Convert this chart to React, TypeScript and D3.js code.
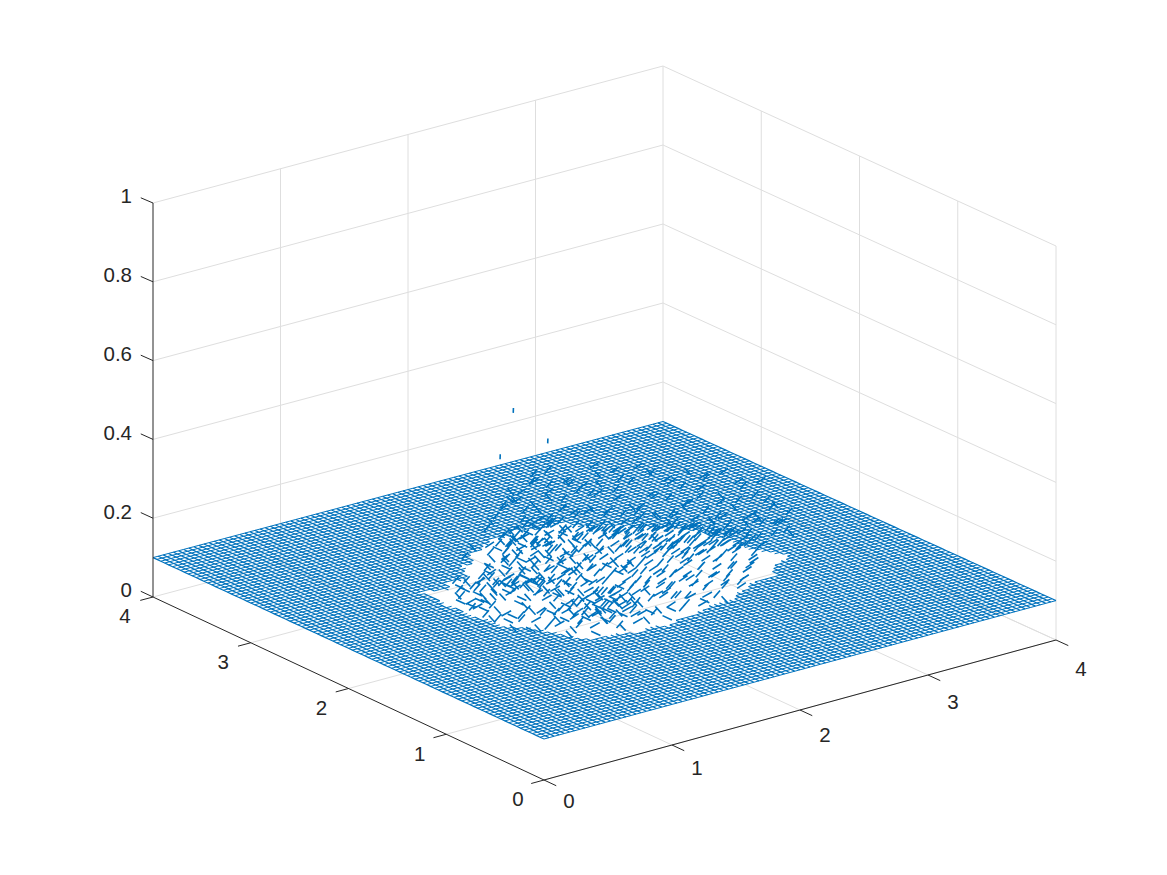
import React, { useMemo } from "react";
import * as d3 from "d3";

// Axis ticks
const xTicks = [0, 1, 2, 3, 4];
const yTicks = [0, 1, 2, 3, 4];
const zTicks = [0, 0.2, 0.4, 0.6, 0.8, 1];
const zTickLabels = ["0", "0.2", "0.4", "0.6", "0.8", "1"];

// Flat sheet of the surface
const sheetLevel = 0.1;
const meshCells = 100;

// Outline of the opening in the sheet: [x, y]
const holeOutline = [
  [0.95, 2.53], [1.12, 2.44], [1.2, 2.56], [1.33, 2.52], [1.45, 2.73], [1.53, 2.7], [1.61, 2.87], [1.72, 2.86], [1.87, 3.01], [1.98, 2.96],
  [2.08, 3.03], [2.22, 2.95], [2.4, 2.98], [2.46, 2.84], [2.55, 2.78], [2.62, 2.74], [2.73, 2.6], [2.83, 2.54], [2.99, 2.33], [3.0, 2.2],
  [3.06, 2.06], [3.05, 1.9], [3.18, 1.63], [3.0, 1.56], [2.88, 1.41], [2.72, 1.41], [2.57, 1.32], [2.5, 1.3], [2.41, 1.22], [2.26, 1.24],
  [2.11, 1.18], [1.96, 1.18], [1.83, 1.11], [1.72, 1.16], [1.6, 1.13], [1.5, 1.19], [1.42, 1.2], [1.33, 1.21], [1.24, 1.27], [1.2, 1.42],
  [1.11, 1.6], [1.08, 1.66], [0.99, 1.75], [0.99, 1.88], [0.95, 2.0], [0.97, 2.12], [0.93, 2.24], [0.98, 2.36],
];

// Stroke shapes: [dx, dy, dz]
const strokeShapes = [
  [0.05, 0, 0.014],
  [0, -0.065, -0.01],
  [0.075, 0, 0.007],
  [0, -0.095, 0],
  [0.006, 0.006, 0.011],
  [0.045, -0.03, 0.014],
];

// Short strokes inside the opening, estimated by eye region by region.
// Row y (hundredths), then triples: x (hundredths), z (hundredths), shape
const strokeRowY = [122, 127, 132, 137, 142, 147, 152, 157, 162, 167, 172, 177, 182, 187, 192, 197, 202, 207, 212, 217, 222, 227, 232, 237, 242, 247, 252, 257, 262, 267, 272, 277, 282, 287, 292, 297];
const strokeRows = [
  [150,11,0, 163,11,2, 171,12,1, 186,11,3, 199,11,0, 214,11,2, 226,12,0],
  [134,11,3, 148,12,0, 156,11,1, 165,12,2, 181,11,0, 193,12,3, 206,11,0, 221,12,2, 236,11,1],
  [126,12,0, 137,11,2, 146,13,1, 152,12,0, 159,13,3, 168,12,0, 174,11,2, 188,12,1, 197,11,5, 211,12,0, 223,11,3, 240,12,0, 252,11,5],
  [122,11,1, 131,12,0, 140,13,5, 149,12,3, 155,14,0, 161,13,1, 166,12,2, 175,13,0, 184,11,3, 195,13,5, 204,12,0, 216,11,2, 229,12,0, 243,12,5, 256,11,0],
  [117,12,2, 129,11,1, 138,13,0, 146,12,2, 152,14,1, 158,13,3, 164,14,0, 170,12,5, 181,13,1, 190,12,0, 201,13,5, 211,11,0, 222,13,2, 234,12,5, 249,12,0, 262,11,5],
  [113,11,0, 125,13,3, 134,12,0, 143,13,1, 150,14,2, 157,13,0, 163,15,3, 169,13,1, 177,12,0, 188,14,5, 198,12,2, 208,13,0, 218,14,5, 228,12,0, 241,13,5, 255,12,0, 268,12,5],
  [109,12,1, 120,11,0, 130,13,2, 140,12,5, 148,14,1, 155,13,3, 161,15,0, 168,14,2, 175,13,5, 184,12,1, 194,14,0, 204,13,5, 214,12,0, 225,14,5, 235,13,0, 247,12,5, 260,13,0, 274,12,5],
  [106,11,3, 117,13,0, 128,12,1, 137,14,5, 146,13,0, 153,14,3, 160,13,2, 170,14,0, 179,13,1, 189,12,5, 199,14,0, 209,13,5, 219,14,0, 231,12,5, 241,14,0, 252,13,5, 266,12,0, 281,12,5],
  [104,12,0, 114,11,2, 126,13,3, 135,12,0, 145,14,1, 152,13,5, 162,14,0, 171,12,3, 181,14,5, 191,13,0, 202,12,1, 212,14,5, 222,13,0, 233,15,5, 244,13,0, 256,14,5, 270,13,0, 284,12,5],
  [101,11,1, 112,13,0, 122,12,5, 132,14,1, 141,13,3, 150,12,0, 159,14,2, 169,13,1, 179,12,0, 189,14,5, 199,13,0, 210,15,5, 220,14,0, 230,13,5, 240,15,0, 251,14,5, 262,13,0, 275,14,5, 290,12,0],
  [100,12,3, 111,11,0, 120,13,1, 130,14,2, 139,13,0, 148,15,3, 158,13,1, 167,12,5, 177,14,0, 187,13,3, 197,15,5, 207,14,0, 217,13,5, 228,15,0, 238,14,5, 249,16,0, 259,15,5, 270,13,0, 283,14,5, 297,12,0],
  [97,11,0, 107,12,3, 118,14,1, 127,15,2, 135,14,0, 144,15,1, 154,13,0, 164,14,5, 174,12,1, 184,14,0, 194,15,5, 204,13,0, 214,15,5, 224,14,0, 235,16,5, 245,15,0, 256,14,5, 267,15,0, 279,13,5, 292,13,0, 303,12,5],
  [96,12,1, 106,11,2, 116,14,3, 124,15,1, 132,14,0, 141,16,2, 150,14,1, 160,13,0, 170,15,3, 180,13,5, 191,14,0, 201,15,5, 211,14,0, 221,16,5, 232,15,0, 242,14,5, 253,16,0, 264,15,5, 275,14,0, 287,13,5, 300,13,0],
  [95,11,0, 104,13,1, 113,15,2, 122,14,3, 130,16,1, 138,15,0, 148,13,2, 158,15,1, 168,14,0, 178,12,5, 188,15,0, 198,14,3, 208,15,5, 218,14,0, 229,16,5, 239,15,0, 250,14,5, 261,16,0, 272,14,5, 284,15,0, 297,13,5, 308,12,0],
  [96,13,3, 104,12,0, 112,15,1, 120,16,2, 128,15,0, 136,16,3, 146,14,1, 156,13,0, 166,15,5, 176,14,1, 186,13,0, 197,15,5, 207,14,1, 217,16,0, 227,14,5, 238,15,0, 248,16,5, 259,15,0, 270,14,5, 281,15,0, 293,14,5, 305,13,0],
  [95,12,2, 104,14,1, 111,16,0, 118,15,3, 126,16,1, 134,15,2, 144,14,0, 154,15,1, 165,13,3, 175,15,0, 185,14,5, 195,13,0, 206,15,5, 216,14,1, 226,16,0, 236,15,5, 247,14,0, 258,16,5, 268,15,0, 279,14,5, 291,15,0, 302,13,5],
  [96,11,0, 105,13,3, 113,15,1, 121,16,2, 129,15,0, 138,14,1, 148,15,3, 158,13,0, 168,14,5, 178,15,1, 188,13,0, 198,15,5, 208,14,1, 218,15,0, 229,14,5, 239,16,0, 250,15,5, 260,14,0, 271,16,5, 283,14,0, 295,13,5],
  [98,12,3, 108,14,0, 116,13,1, 125,15,3, 134,14,0, 144,13,2, 154,15,1, 164,14,0, 174,13,5, 184,15,1, 194,14,0, 204,13,3, 214,15,0, 224,14,5, 235,16,0, 245,15,5, 256,14,0, 267,16,5, 278,14,0, 290,13,5],
  [101,11,2, 112,13,1, 122,14,0, 133,13,3, 143,15,0, 153,13,1, 163,14,2, 173,15,0, 183,13,1, 194,14,5, 204,15,0, 214,13,1, 224,15,0, 235,14,5, 245,15,0, 256,16,5, 267,14,0, 278,15,5, 288,13,0],
  [99,12,0, 112,11,3, 124,13,1, 136,12,0, 146,14,3, 156,15,1, 166,13,0, 176,14,2, 186,15,1, 196,13,0, 206,14,5, 216,15,1, 226,14,0, 237,15,5, 248,14,0, 258,16,5, 268,15,0, 279,14,5],
  [101,11,3, 115,12,0, 128,12,1, 140,14,0, 151,13,3, 161,15,1, 171,14,0, 181,13,3, 191,15,0, 201,14,1, 211,15,0, 222,14,5, 232,15,0, 243,14,5, 254,15,0, 265,14,5, 276,13,0],
  [104,12,1, 118,11,3, 130,13,0, 143,12,2, 154,14,1, 164,13,0, 174,15,3, 184,14,1, 194,13,0, 204,15,5, 214,14,1, 225,15,0, 236,14,5, 247,15,0, 258,14,5, 270,13,0],
  [109,11,0, 124,12,2, 138,12,1, 150,14,0, 160,13,3, 170,15,1, 180,14,0, 190,13,2, 200,15,1, 210,14,0, 220,15,5, 231,14,0, 242,15,5, 253,14,0, 265,13,5],
  [116,11,3, 130,12,0, 146,13,1, 157,14,0, 167,13,2, 177,15,1, 187,14,0, 197,13,3, 207,15,0, 217,14,1, 228,15,0, 239,14,5, 251,13,0, 262,13,5],
  [122,11,0, 138,12,1, 152,13,3, 163,14,0, 173,13,1, 184,15,2, 194,13,0, 204,15,1, 215,14,0, 225,15,5, 236,14,0, 248,13,5, 258,13,0],
  [142,12,3, 157,13,0, 168,12,1, 179,14,2, 190,13,1, 200,15,0, 211,14,3, 221,13,1, 232,15,0, 243,13,5, 254,12,0],
  [146,11,0, 160,13,1, 172,12,3, 183,14,0, 194,13,2, 204,15,1, 215,13,0, 226,14,5, 238,13,0, 249,12,5],
  [150,12,1, 163,11,0, 175,13,2, 186,14,1, 197,13,0, 208,15,3, 219,13,1, 230,14,0, 243,12,5],
  [154,11,3, 168,12,0, 179,13,1, 190,12,0, 201,14,2, 212,13,1, 223,14,0, 236,12,5],
  [160,12,0, 172,11,1, 184,13,3, 195,12,0, 206,14,1, 217,13,0, 229,12,5],
  [165,11,1, 178,12,0, 189,13,2, 200,12,1, 211,14,0, 223,12,5],
  [172,12,3, 183,11,0, 194,13,1, 205,12,0, 217,13,2],
  [178,11,0, 189,12,1, 200,13,3, 212,12,0, 228,12,1],
  [184,12,1, 196,11,0, 207,13,2, 222,12,0],
  [191,11,0, 202,13,1, 214,12,3, 228,11,0],
  [199,12,1, 210,11,0, 222,12,2],
];

// Extra strokes where the picture is densest: x, y, z, shape (hundredths)
const clusterStrokes = [
  [150,138,12,1],[155,143,13,0],[160,149,12,3],[165,144,14,5],[170,152,13,1],[146,150,13,0],[152,158,14,5],[158,154,12,1],[164,160,14,0],[170,147,12,2],
  [175,158,13,5],[141,146,12,3],[147,140,14,1],[136,154,13,0],[142,160,12,1],[176,140,12,0],[181,150,14,1],[186,158,13,0],[132,146,12,5],[128,158,12,0],
  [112,240,12,0],[118,236,13,1],[124,230,12,0],[130,228,14,5],[135,222,13,1],[140,216,12,0],[146,212,14,3],[150,207,13,0],[154,202,12,1],[160,196,14,5],
  [108,232,13,3],[115,226,12,0],[122,218,14,1],[128,214,13,0],[134,208,12,5],[140,202,14,1],[146,196,13,0],[152,190,12,3],[158,186,14,0],[164,180,13,1],
  [252,200,14,5],[258,194,15,0],[264,188,14,5],[270,182,16,0],[274,176,15,5],[280,170,14,0],[256,182,15,5],[262,176,14,0],[268,170,16,5],[246,190,15,0],
  [240,196,16,5],[234,202,14,0],[250,172,15,5],[244,178,14,0],[238,184,16,5],[232,190,15,0],[226,196,14,5],[220,204,16,0],[284,188,14,5],[278,196,15,0],
  [272,204,14,5],[266,210,15,0],[260,216,14,5],[254,222,15,0],[246,228,14,5],[238,228,15,0],[230,234,14,5],[222,240,15,0],[214,248,14,5],[206,254,15,0],
  [198,258,14,1],[190,262,13,0],[182,266,14,5],[174,260,13,1],[166,256,14,0],[158,250,13,5],[200,226,14,0],[192,232,15,1],[184,238,14,0],[176,244,13,5],
];

// Raised strokes that lie over the far part of the sheet: x, y, z, shape (hundredths)
const raisedStrokes = [
  [158,268,18,0],[166,275,20,1],[172,270,22,5],[176,282,18,0],[182,276,24,1],[187,289,19,0],[191,281,21,5],[195,292,23,1],[201,285,17,0],[205,296,20,5],
  [210,288,25,0],[214,294,18,1],[219,284,22,0],[224,292,19,5],[229,280,24,1],[233,287,17,0],[238,276,21,5],[242,283,19,0],[247,270,23,1],[251,277,18,5],
  [255,263,20,0],[259,270,24,5],[264,258,17,1],[268,264,21,0],[272,250,19,5],[276,256,25,1],[281,243,18,0],[284,249,22,5],[289,237,17,1],[292,243,20,0],
  [296,228,24,5],[299,234,18,0],[303,218,21,1],[306,224,17,5],[309,208,19,0],[312,213,23,5],[316,198,17,1],[318,203,20,0],[321,187,15,5],[323,192,18,0],
  [175,262,26,1],[184,256,29,0],[193,267,27,5],[199,258,25,1],[208,271,28,0],[215,262,26,5],[223,267,24,0],[232,256,29,5],[240,262,27,1],[248,249,25,0],
  [257,244,28,5],[266,240,26,0],[274,232,24,5],[283,226,28,1],[291,218,25,0],[298,210,27,5],[305,198,24,0],[311,189,26,5],[316,180,22,1],[321,172,19,0],
  [187,244,20,5],[196,240,23,0],[205,246,18,1],[214,239,21,5],[222,245,24,0],[231,236,18,1],[239,241,22,5],[247,230,19,0],[255,224,23,5],[263,220,18,1],
  [271,212,21,0],[278,207,25,5],[286,199,18,0],[293,192,22,1],[301,184,19,5],[307,176,23,0],[312,168,18,5],[205,226,15,0],[216,222,18,1],[226,226,16,5],
  [236,218,19,0],[246,212,16,1],[256,206,20,5],[266,200,17,0],[276,192,20,1],[286,184,16,0],[296,174,19,5],[304,165,16,0],[310,156,18,1],[130,254,15,0],
  [142,262,17,1],[150,256,16,5],[156,246,15,0],[168,252,18,1],[178,240,16,0],
  [165,262,16,0],[171,258,18,5],[180,270,15,1],[189,272,17,0],[197,276,16,5],[206,278,19,1],[213,276,15,0],[221,274,17,5],[230,270,15,0],[238,266,18,1],
  [246,260,16,5],[254,254,15,0],[262,248,17,5],[270,242,16,1],[278,236,15,0],[286,230,18,5],[294,222,16,0],[300,214,15,5],[308,200,16,1],[314,190,15,0],
  [318,180,16,5],[322,176,14,0],[302,192,17,5],[295,200,15,0],[288,208,17,1],[280,216,16,5],[272,224,15,0],[264,232,18,1],[256,238,16,0],[247,244,15,5],
  [238,250,17,0],[229,256,15,1],[220,260,18,5],[211,262,16,0],[202,264,15,1],[193,250,18,0],[184,248,15,5],[176,252,17,0],
  [198,290,42,4],[225,290,32,4],[180,280,33,4],
];

const XMAX = 4;
const YMAX = 4;
// Axes box in the picture: floor corners and the height of the box above them (perspective view)
const cornerF = { p: [544, 780], h: 410 };
const cornerR = { p: [1056, 640], h: 394 };
const cornerL = { p: [153, 597], h: 394 };
const cornerB = { p: [663, 461], h: 395 };

const xNorm = d3.scaleLinear().domain([0, XMAX]).range([0, 1]);
const yNorm = d3.scaleLinear().domain([0, YMAX]).range([0, 1]);
const lerp = (a: number, b: number, t: number) => a + (b - a) * t;

function project(x: number, y: number, z: number): [number, number] {
  const u = xNorm(x);
  const v = yNorm(y);
  const bi = (f: number, r: number, l: number, b: number) => lerp(lerp(f, r, u), lerp(l, b, u), v);
  const px = bi(cornerF.p[0], cornerR.p[0], cornerL.p[0], cornerB.p[0]);
  const py = bi(cornerF.p[1], cornerR.p[1], cornerL.p[1], cornerB.p[1]);
  const h = bi(cornerF.h, cornerR.h, cornerL.h, cornerB.h);
  return [px, py - h * z];
}

const line3 = (pts: [number, number, number][]) => {
  const p = d3.path();
  pts.forEach(([x, y, z], i) => {
    const [a, b] = project(x, y, z);
    if (i === 0) p.moveTo(a, b);
    else p.lineTo(a, b);
  });
  return p.toString();
};

const AXIS = "#262626";
const GRID = "#DEDEDE";
const BLUE = "#0072BD";
const FONT = "'Liberation Sans', Arial, Helvetica, sans-serif";

export default function App() {
  const { meshAlongX, meshAlongY, strokePath } = useMemo(() => {
    const step = XMAX / meshCells;
    const inHole = (x: number, y: number) => d3.polygonContains(holeOutline as [number, number][], [x, y]);
    const alongX = d3.path();
    const alongY = d3.path();
    const seg = (target: d3.Path, x0: number, y0: number, x1: number, y1: number) => {
      if (inHole((x0 + x1) / 2, (y0 + y1) / 2)) return;
      const [a, b] = project(x0, y0, sheetLevel);
      const [c, d] = project(x1, y1, sheetLevel);
      target.moveTo(a, b);
      target.lineTo(c, d);
    };
    for (let i = 0; i <= meshCells; i++) {
      for (let j = 0; j <= meshCells; j++) {
        const x = i * step;
        const y = j * step;
        if (i < meshCells) seg(alongX, x, y, x + step, y);
        if (j < meshCells) seg(alongY, x, y, x, y + step);
      }
    }
    const st = d3.path();
    const add = (x: number, y: number, z: number, k: number) => {
      const s = strokeShapes[k];
      const [a, b] = project(x, y, z);
      const [c, d] = project(x + s[0], y + s[1], z + s[2]);
      st.moveTo(a, b);
      st.lineTo(c, d);
    };
    strokeRows.forEach((row, r) => {
      for (let i = 0; i < row.length; i += 3) add(row[i] / 100, strokeRowY[r] / 100, row[i + 1] / 100, row[i + 2]);
    });
    clusterStrokes.forEach(([x, y, z, k]) => add(x / 100, y / 100, z / 100, k));
    raisedStrokes.forEach(([x, y, z, k]) => add(x / 100, y / 100, z / 100, k));
    return { meshAlongX: alongX.toString(), meshAlongY: alongY.toString(), strokePath: st.toString() };
  }, []);

  const gridLines: string[] = [];
  xTicks.forEach((x) => {
    if (x > 0) gridLines.push(line3([[x, 0, 0], [x, YMAX, 0], [x, YMAX, 1]]));
  });
  yTicks.forEach((y) => {
    if (y < YMAX) gridLines.push(line3([[0, y, 0], [XMAX, y, 0], [XMAX, y, 1]]));
  });
  zTicks.forEach((z) => {
    gridLines.push(line3([[0, YMAX, z], [XMAX, YMAX, z], [XMAX, 0, z]]));
  });

  return (
    <svg width={1167} height={875} style={{ position: "absolute", left: 0, top: 0, background: "#fff" }} fontFamily={FONT}>
      <g fill="none" stroke={GRID} strokeWidth={1}>
        {gridLines.map((d, i) => (
          <path key={i} d={d} />
        ))}
      </g>
      <path d={meshAlongX} fill="none" stroke={BLUE} strokeWidth={1} />
      <path d={meshAlongY} fill="none" stroke={BLUE} strokeWidth={1.2} />
      <path d={strokePath} fill="none" stroke={BLUE} strokeWidth={1.6} />
      <g fill="none" stroke={AXIS} strokeWidth={1}>
        <path d={line3([[0, 0, 0], [XMAX, 0, 0]])} />
        <path d={line3([[0, 0, 0], [0, YMAX, 0]])} />
        <path d={line3([[0, YMAX, 0], [0, YMAX, 1]])} />
        {xTicks.map((x) => (
          <path key={x} d={line3([[x, 0, 0], [x, -0.125, 0]])} />
        ))}
        {yTicks.map((y) => (
          <path key={y} d={line3([[0, y, 0], [-0.1, y, 0]])} />
        ))}
        {zTicks.map((z) => (
          <path key={z} d={line3([[0, YMAX, z], [0, YMAX + 0.125, z]])} />
        ))}
      </g>
      <g fill={AXIS} fontSize={20.5}>
        {xTicks.map((x) => {
          const [a, b] = project(x, 0, 0);
          return (
            <text key={x} x={a + 25} y={b + 21 + 2 * x} dy="0.36em" textAnchor="middle">
              {x}
            </text>
          );
        })}
        {yTicks.map((y) => {
          const [a, b] = project(0, y, 0);
          return (
            <text key={y} x={a - 26 - y / 2} y={b + 19} dy="0.36em" textAnchor="middle">
              {y}
            </text>
          );
        })}
        {zTicks.map((z, i) => {
          const [, b] = project(0, YMAX, z);
          return (
            <text key={z} x={132} y={b - 7} dy="0.36em" textAnchor="end">
              {zTickLabels[i]}
            </text>
          );
        })}
      </g>
    </svg>
  );
}
